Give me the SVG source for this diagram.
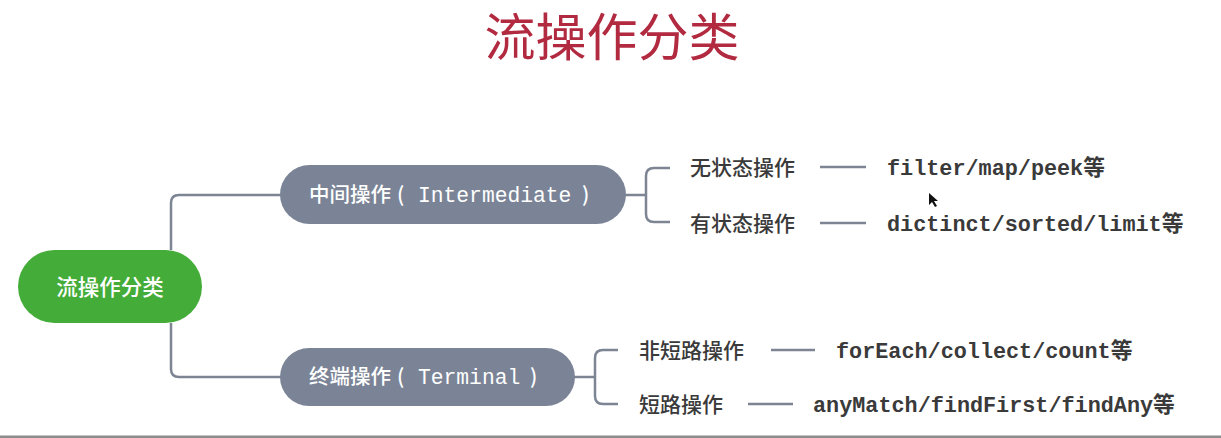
<svg xmlns="http://www.w3.org/2000/svg" width="1221" height="438" viewBox="0 0 1221 438">
<style>
.cjk{font-family:"Noto Sans CJK SC","Noto Sans",sans-serif;font-weight:500;}
.mono{font-family:"Liberation Mono","Noto Sans CJK SC",monospace;font-weight:bold;}
.lbl{font-size:21px;fill:#3a3a3a;}
.code{font-size:21.8px;fill:#3a3a3a;}
.ntxt{font-size:20.5px;fill:#ffffff;}
.nmono{font-family:"Liberation Mono",monospace;font-size:21.3px;fill:#ffffff;}
.conn{fill:none;stroke:#7d8595;stroke-width:2.5;stroke-linecap:butt;}
.node{fill:#7b8496;}
</style>
<rect x="0" y="0" width="1221" height="438" fill="#ffffff"/>
<text id="title" x="612" y="56" font-family="Noto Sans CJK SC, Noto Sans, sans-serif" font-weight="400" font-size="51" fill="#b22a40" text-anchor="middle">流操作分类</text>
<g id="connectors">
<path class="conn" d="M171,250 V203 Q171,195 179,195 H282"/>
<path class="conn" d="M171,323 V369 Q171,377 179,377 H282"/>
<path class="conn" d="M624,195 H646 M670,168 H654 Q646,168 646,176 V214 Q646,222 654,222 H670"/>
<path class="conn" d="M573,377 H595 M618,350 H603 Q595,350 595,358 V396 Q595,404 603,404 H618"/>
<path class="conn" d="M820,167 H866 M820,223 H866 M771,350 H815 M748,404 H793"/>
</g>
<g id="root">
<rect x="18" y="250" width="184" height="73" rx="36.5" fill="#44ac38"/>
<text class="cjk" x="110" y="295" font-size="21.5" fill="#ffffff" text-anchor="middle">流操作分类</text>
</g>
<g id="intermediate">
<rect class="node" x="280" y="165" width="346" height="59" rx="29.5"/>
<text class="cjk ntxt" x="309" y="202">中间操作</text>
<text class="cjk ntxt" x="397" y="202">(</text>
<text class="nmono" x="418" y="202">Intermediate</text>
<text class="cjk ntxt" x="582" y="202">)</text>
</g>
<g id="terminal">
<rect class="node" x="280" y="348" width="295" height="58" rx="29"/>
<text class="cjk ntxt" x="309" y="384">终端操作</text>
<text class="cjk ntxt" x="397" y="384">(</text>
<text class="nmono" x="418" y="384">Terminal</text>
<text class="cjk ntxt" x="530" y="384">)</text>
</g>
<g id="stateless">
<text class="cjk lbl" x="690" y="175">无状态操作</text>
<text class="mono code" x="887" y="175">filter/map/peek等</text>
</g>
<g id="stateful">
<text class="cjk lbl" x="690" y="231">有状态操作</text>
<text class="mono code" x="887" y="231">dictinct/sorted/limit等</text>
</g>
<g id="nonshort">
<text class="cjk lbl" x="639" y="358">非短路操作</text>
<text class="mono code" x="836" y="358">forEach/collect/count等</text>
</g>
<g id="short">
<text class="cjk lbl" x="639" y="412">短路操作</text>
<text class="mono code" x="813" y="412">anyMatch/findFirst/findAny等</text>
</g>
<path d="M929,193 L929,205 L932,202 L935,207 L937,206 L934,201 L938,201 Z" fill="#111111"/>
<rect x="0" y="435.5" width="1221" height="2.5" fill="#8c8c8c"/>
</svg>
